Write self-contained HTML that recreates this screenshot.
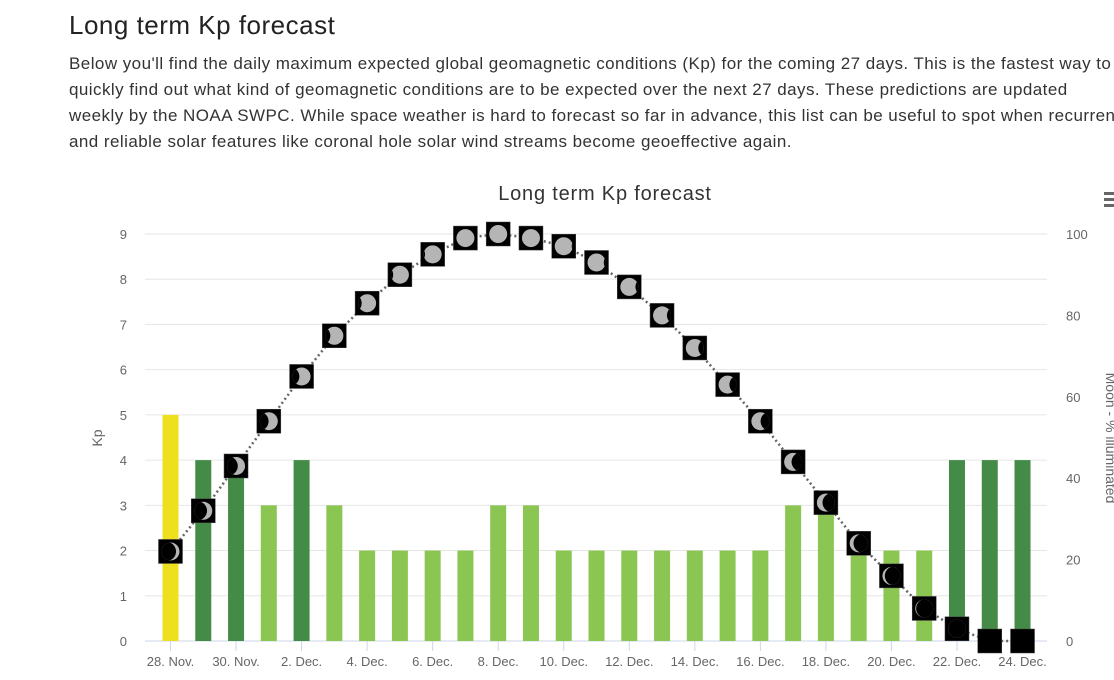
<!DOCTYPE html>
<html><head><meta charset="utf-8">
<style>
body{margin:0;width:1114px;height:680px;overflow:hidden;background:#fff;font-family:"Liberation Sans","Noto Sans CJK KR",sans-serif;}
h1{position:absolute;left:69px;top:10px;margin:0;font-size:26px;font-weight:normal;color:#222;white-space:nowrap;letter-spacing:0.5px;}
p{position:absolute;left:69px;top:51px;margin:0;width:1200px;font-size:17px;line-height:26px;color:#333;white-space:nowrap;letter-spacing:0.45px;}
svg{position:absolute;left:0;top:0;}
</style></head><body>
<h1>Long term Kp forecast</h1>
<p>Below you'll find the daily maximum expected global geomagnetic conditions (Kp) for the coming 27 days. This is the fastest way to<br>quickly find out what kind of geomagnetic conditions are to be expected over the next 27 days. These predictions are updated<br>weekly by the NOAA SWPC. While space weather is hard to forecast so far in advance, this list can be useful to spot when recurrent<br>and reliable solar features like coronal hole solar wind streams become geoeffective again.</p>
<svg id="chart" width="1114" height="680"></svg>
<script>
const dates=["28. Nov.","29. Nov.","30. Nov.","1. Dec.","2. Dec.","3. Dec.","4. Dec.","5. Dec.","6. Dec.","7. Dec.","8. Dec.","9. Dec.","10. Dec.","11. Dec.","12. Dec.","13. Dec.","14. Dec.","15. Dec.","16. Dec.","17. Dec.","18. Dec.","19. Dec.","20. Dec.","21. Dec.","22. Dec.","23. Dec.","24. Dec."];
const kp=[5,4,4,3,4,3,2,2,2,2,3,3,2,2,2,2,2,2,2,3,3,2,2,2,4,4,4];
const moon=[22,32,43,54,65,75,83,90,95,99,100,99,97,93,87,80,72,63,54,44,34,24,16,8,3,0,0];
const kpTicks=[0,1,2,3,4,5,6,7,8,9];
const moonTicks=[0,20,40,60,80,100];
const NS="http://www.w3.org/2000/svg";
const svg=document.getElementById('chart');
const y0=641,yTop=234;
const yKp=v=>y0-(y0-yTop)*v/9;
const yMoon=v=>y0-(y0-yTop)*v/100;
const xC=i=>170.5+i*32.77;
function el(t,a,p){const e=document.createElementNS(NS,t);for(const k in a)e.setAttribute(k,a[k]);(p||svg).appendChild(e);return e;}
const defs=el('defs',{});
let t=el('text',{x:605,y:200,'text-anchor':'middle','font-size':20,fill:'#333','letter-spacing':0.8});t.textContent='Long term Kp forecast';


kpTicks.forEach(v=>{
 const l=el('line',{x1:145,x2:1047,y1:yKp(v),y2:yKp(v),stroke:v===0?'#ccd6eb':'#e6e6e6'});
 
 
 const tx=el('text',{x:127,y:yKp(v)+5,'text-anchor':'end','font-size':13,fill:'#666'});tx.textContent=v;
 
 
});
moonTicks.forEach(v=>{
 const tx=el('text',{x:1066,y:yMoon(v)+5,'font-size':13,fill:'#666'});tx.textContent=v;
 
 
});
t=el('text',{x:102,y:438,'text-anchor':'middle','font-size':14,fill:'#666',transform:'rotate(-90 102 438)'});t.textContent='Kp';


t=el('text',{x:1106,y:438,'text-anchor':'middle','font-size':14,fill:'#666',transform:'rotate(90 1106 438)'});t.textContent='Moon - % illuminated';


const menu=el('g',{});


[193,199,205].forEach(y=>el('rect',{x:1104,y:y-1,width:12,height:3,fill:'#666'},menu));
kp.forEach((v,i)=>{
 const c=v>=5?'#ede01e':(v>=4?'#458b48':'#8bc653');
 const r=el('rect',{x:xC(i)-8,y:yKp(v),width:16,height:y0-yKp(v),fill:c});
 
 
});
dates.forEach((d,i)=>{
 if(i%2)return;
 el('line',{x1:xC(i),x2:xC(i),y1:y0,y2:y0+10,stroke:'#ccd6eb'});
 const tx=el('text',{x:xC(i),y:666,'text-anchor':'middle','font-size':13,fill:'#666'});tx.textContent=d;
 
 
});
const pts=moon.map((v,i)=>xC(i)+','+yMoon(v)).join(' ');
const pl=el('polyline',{points:pts,fill:'none',stroke:'#666','stroke-width':2.5,'stroke-dasharray':'2 3'});


moon.forEach((v,i)=>{
 const g=el('g',{});
 
 
 const x=xC(i),y=yMoon(v);
 el('rect',{x:x-12,y:y-12,width:24,height:24,fill:'#000',stroke:'#444','stroke-width':0.5},g);
 if(v>2){
  const cp=el('clipPath',{id:'cp'+i},defs);
  el('circle',{cx:x,cy:y,r:9},cp);
  el('circle',{cx:x,cy:y,r:9,fill:'#b5b5b5'},g);
  const f=v/100,waxing=i<10;
  const off=(f*18)*(waxing?-1:1);
  if(v<98)el('circle',{cx:x+off,cy:y,r:9.5,fill:'#000','clip-path':'url(#cp'+i+')'},g);
 }
});
</script>
</body></html>
